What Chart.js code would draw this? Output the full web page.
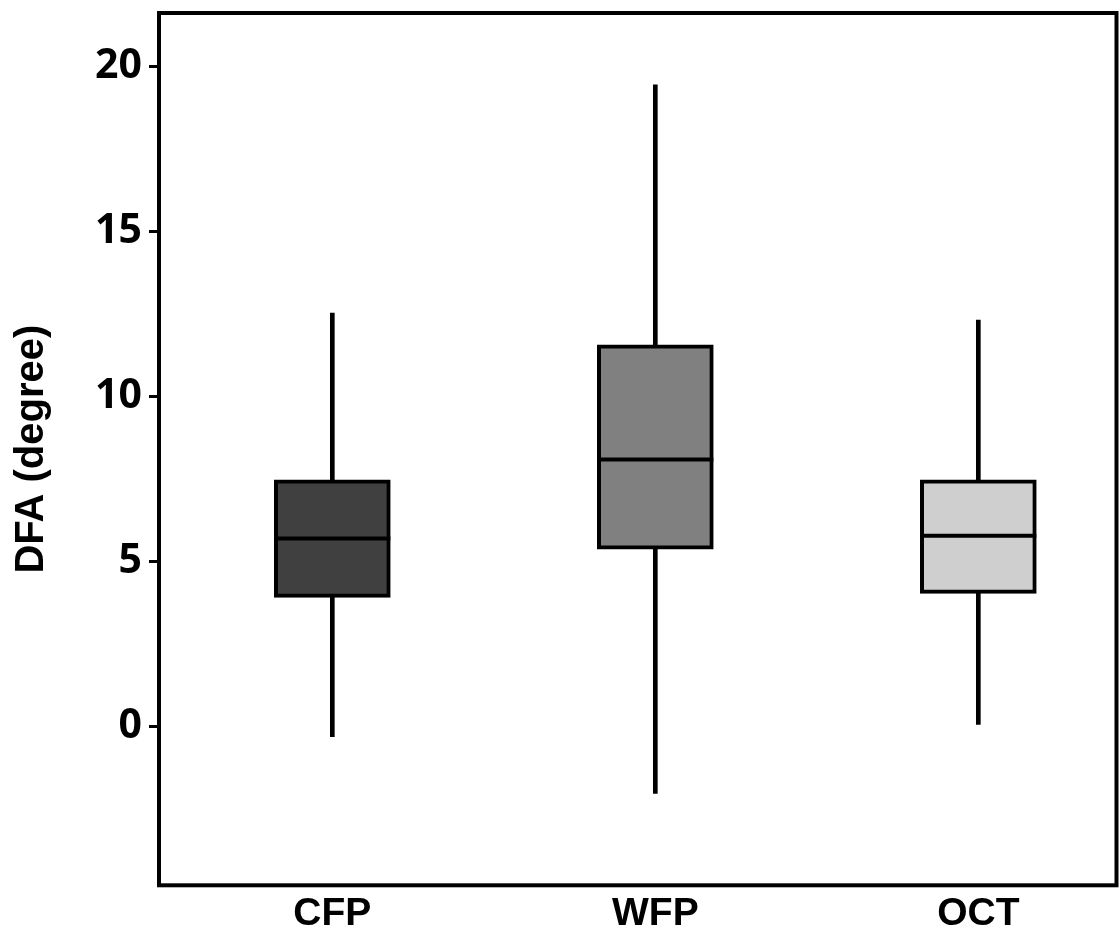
<!DOCTYPE html>
<html>
<head>
<meta charset="utf-8">
<script src="https://cdn.jsdelivr.net/npm/chart.js@4/dist/chart.umd.min.js"></script>
<style>
  html, body { margin: 0; padding: 0; background: #ffffff; }
  #wrap { width: 1120px; height: 935px; }
</style>
</head>
<body>
<div id="wrap"><canvas id="c" width="1120" height="935"></canvas></div>
<script>
// ---- data ----
const categories  = ['CFP', 'WFP', 'OCT'];
const whiskerMin  = [-0.30, -2.02, 0.07];
const whiskerMax  = [12.53, 19.45, 12.32];
const q1          = [3.92, 5.38, 4.04];
const q3          = [7.48, 11.57, 7.48];
const median      = [5.70, 8.10, 5.79];
const boxColors   = ['#404040', '#808080', '#d0cfd0'];
const yTicks      = [0, 5, 10, 15, 20];
const yTitle      = 'DFA (degree)';

const xPos = categories.map((_, i) => i + 1);

const boxData = xPos.map((x, i) => ({ x: x, y: [q1[i], q3[i]] }));
const whiskerData = xPos.map((x, i) => ({ x: x, y: [whiskerMin[i], whiskerMax[i]] }));

const framePlugin = {
  id: 'frame',
  afterDatasetsDraw(chart) {
    const ctx = chart.ctx;
    const a = chart.chartArea;
    const meta = chart.getDatasetMeta(0);
    const ys = chart.scales.y;
    ctx.save();
    ctx.strokeStyle = '#000';
    ctx.lineWidth = 4;
    meta.data.forEach((bar, i) => {
      const y = ys.getPixelForValue(median[i]);
      ctx.beginPath();
      ctx.moveTo(bar.x - bar.width / 2, y);
      ctx.lineTo(bar.x + bar.width / 2, y);
      ctx.stroke();
    });
    ctx.lineWidth = 4;
    ctx.strokeRect(a.left, a.top, a.right - a.left, a.bottom - a.top);
    ctx.restore();
  }
};

new Chart(document.getElementById('c'), {
  type: 'bar',
  data: {
    datasets: [
      {
        label: 'box',
        data: boxData,
        backgroundColor: boxColors,
        borderColor: '#000',
        borderWidth: 4,
        borderSkipped: false,
        barThickness: 116,
        grouped: false,
        order: 0
      },
      {
        label: 'whisker',
        data: whiskerData,
        backgroundColor: '#000',
        borderWidth: 0,
        barThickness: 4,
        grouped: false,
        order: 1
      }
    ]
  },
  options: {
    responsive: false,
    animation: false,
    devicePixelRatio: 1,
    layout: { padding: { top: 13, right: 3.5, left: 0, bottom: 0 } },
    plugins: {
      legend: { display: false },
      tooltip: { enabled: false }
    },
    scales: {
      x: {
        type: 'linear',
        offset: false,
        min: 0.4634,
        max: 3.4278,
        afterBuildTicks(scale) { scale.ticks = xPos.map(v => ({ value: v })); },
        afterFit(scale) { scale.height = 49.7; scale.paddingLeft = 0; scale.paddingRight = 0; },
        grid: { display: false, drawTicks: false, offset: false },
        border: { display: false },
        ticks: {
          padding: 6,
          color: '#000',
          font: { family: 'Liberation Sans, Arial', weight: 'bold', size: 39 },
          callback: (v) => categories[v - 1],
          maxRotation: 0
        }
      },
      y: {
        type: 'linear',
        min: -4.806,
        max: 21.627,
        afterBuildTicks(scale) { scale.ticks = yTicks.map(v => ({ value: v })); },
        afterFit(scale) { scale.width = 159; scale.paddingTop = 0; scale.paddingBottom = 0; },
        grid: {
          drawOnChartArea: false,
          drawTicks: true,
          tickLength: 10,
          color: '#000',
          lineWidth: 3
        },
        border: { display: false },
        ticks: {
          padding: 7,
          color: '#000',
          font: { family: 'Open Sans', weight: 'bold', size: 41 }
        },
        title: {
          display: true,
          text: yTitle,
          color: '#000',
          padding: { top: 8, bottom: 0 },
          font: { family: 'Liberation Sans, Arial', weight: 'bold', size: 40 }
        }
      }
    }
  },
  plugins: [framePlugin]
});
</script>
</body>
</html>
